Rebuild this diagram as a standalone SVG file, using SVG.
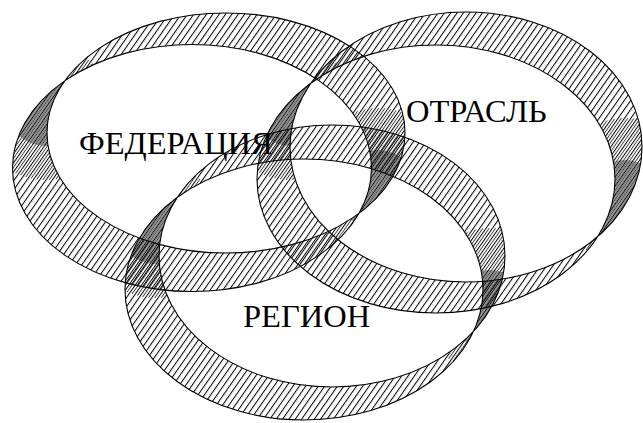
<svg xmlns="http://www.w3.org/2000/svg" width="643" height="423" viewBox="0 0 643 423">
<style>
.band{stroke:none}
.outline{fill:none;stroke:#000;stroke-width:1.1}
.lbl{font-family:"Liberation Serif","Times New Roman",serif;font-size:32.5px;fill:#000}
.hl{stroke:#000;stroke-width:1}
.hx{stroke:#000;stroke-width:0.75}
</style>
<defs>
<pattern id="hF" patternUnits="userSpaceOnUse" width="5.2" height="20" patternTransform="rotate(35)"><line class="hl" x1="0.5" y1="-1" x2="0.5" y2="21"/></pattern>
<pattern id="mF" patternUnits="userSpaceOnUse" width="5.2" height="20" patternTransform="rotate(35)"><line class="hx" x1="3.1" y1="-1" x2="3.1" y2="21"/></pattern>
<pattern id="dF" patternUnits="userSpaceOnUse" width="5.2" height="20" patternTransform="rotate(35)"><line class="hx" x1="1.8" y1="-1" x2="1.8" y2="21"/><line class="hx" x1="4.4" y1="-1" x2="4.4" y2="21"/></pattern>
<pattern id="hO" patternUnits="userSpaceOnUse" width="5.2" height="20" patternTransform="rotate(35) translate(1.7 0)"><line class="hl" x1="0.5" y1="-1" x2="0.5" y2="21"/></pattern>
<pattern id="mO" patternUnits="userSpaceOnUse" width="5.2" height="20" patternTransform="rotate(35) translate(1.7 0)"><line class="hx" x1="3.1" y1="-1" x2="3.1" y2="21"/></pattern>
<pattern id="dO" patternUnits="userSpaceOnUse" width="5.2" height="20" patternTransform="rotate(35) translate(1.7 0)"><line class="hx" x1="1.8" y1="-1" x2="1.8" y2="21"/><line class="hx" x1="4.4" y1="-1" x2="4.4" y2="21"/></pattern>
<pattern id="hR" patternUnits="userSpaceOnUse" width="5.2" height="20" patternTransform="rotate(35) translate(3.4 0)"><line class="hl" x1="0.5" y1="-1" x2="0.5" y2="21"/></pattern>
<pattern id="mR" patternUnits="userSpaceOnUse" width="5.2" height="20" patternTransform="rotate(35) translate(3.4 0)"><line class="hx" x1="3.1" y1="-1" x2="3.1" y2="21"/></pattern>
<pattern id="dR" patternUnits="userSpaceOnUse" width="5.2" height="20" patternTransform="rotate(35) translate(3.4 0)"><line class="hx" x1="1.8" y1="-1" x2="1.8" y2="21"/><line class="hx" x1="4.4" y1="-1" x2="4.4" y2="21"/></pattern>
<clipPath id="cF"><path clip-rule="evenodd" d="M47,133 a179,120 0 1,0 358,0 a179,120 0 1,0 -358,0 Z M12.5,168 a179.5,123.5 0 1,0 359,0 a179.5,123.5 0 1,0 -359,0 Z"/></clipPath>
<clipPath id="cO"><path clip-rule="evenodd" d="M290,147 a176,135 0 1,0 352,0 a176,135 0 1,0 -352,0 Z M257,179 a179,134 0 1,0 358,0 a179,134 0 1,0 -358,0 Z"/></clipPath>
<clipPath id="cR"><path clip-rule="evenodd" d="M159,256 a173,131 0 1,0 346,0 a173,131 0 1,0 -346,0 Z M125,289.5 a179,130.5 0 1,0 358,0 a179,130.5 0 1,0 -358,0 Z"/></clipPath>
<clipPath id="zmF"><circle cx="45" cy="112" r="68"/><circle cx="378" cy="180" r="72"/></clipPath>
<clipPath id="zdF"><circle cx="45" cy="108" r="38"/><circle cx="378" cy="190" r="40"/></clipPath>
<clipPath id="zmO"><circle cx="290" cy="112" r="68"/><circle cx="625" cy="190" r="72"/></clipPath>
<clipPath id="zdO"><circle cx="290" cy="108" r="38"/><circle cx="625" cy="200" r="40"/></clipPath>
<clipPath id="zmR"><circle cx="155" cy="230" r="68"/><circle cx="490" cy="300" r="72"/></clipPath>
<clipPath id="zdR"><circle cx="155" cy="226" r="38"/><circle cx="490" cy="310" r="40"/></clipPath>
</defs>
<rect width="643" height="423" fill="#fff"/>
<g id="federation">
<path class="band" fill="url(#hF)" fill-rule="evenodd" d="M47,133 a179,120 0 1,0 358,0 a179,120 0 1,0 -358,0 Z M12.5,168 a179.5,123.5 0 1,0 359,0 a179.5,123.5 0 1,0 -359,0 Z"/>
<g clip-path="url(#cF)"><g clip-path="url(#zmF)"><rect width="643" height="423" fill="url(#mF)"/></g><g clip-path="url(#zdF)"><rect width="643" height="423" fill="url(#dF)"/></g></g>
<path class="outline" d="M47,133 a179,120 0 1,0 358,0 a179,120 0 1,0 -358,0 Z M12.5,168 a179.5,123.5 0 1,0 359,0 a179.5,123.5 0 1,0 -359,0 Z"/>
</g>
<g id="otrasl">
<path class="band" fill="url(#hO)" fill-rule="evenodd" d="M290,147 a176,135 0 1,0 352,0 a176,135 0 1,0 -352,0 Z M257,179 a179,134 0 1,0 358,0 a179,134 0 1,0 -358,0 Z"/>
<g clip-path="url(#cO)"><g clip-path="url(#zmO)"><rect width="643" height="423" fill="url(#mO)"/></g><g clip-path="url(#zdO)"><rect width="643" height="423" fill="url(#dO)"/></g></g>
<path class="outline" d="M290,147 a176,135 0 1,0 352,0 a176,135 0 1,0 -352,0 Z M257,179 a179,134 0 1,0 358,0 a179,134 0 1,0 -358,0 Z"/>
</g>
<g id="region">
<path class="band" fill="url(#hR)" fill-rule="evenodd" d="M159,256 a173,131 0 1,0 346,0 a173,131 0 1,0 -346,0 Z M125,289.5 a179,130.5 0 1,0 358,0 a179,130.5 0 1,0 -358,0 Z"/>
<g clip-path="url(#cR)"><g clip-path="url(#zmR)"><rect width="643" height="423" fill="url(#mR)"/></g><g clip-path="url(#zdR)"><rect width="643" height="423" fill="url(#dR)"/></g></g>
<path class="outline" d="M159,256 a173,131 0 1,0 346,0 a173,131 0 1,0 -346,0 Z M125,289.5 a179,130.5 0 1,0 358,0 a179,130.5 0 1,0 -358,0 Z"/>
</g>
<g id="labels">
<text class="lbl" x="79" y="154">ФЕДЕРАЦИЯ</text>
<text class="lbl" x="406" y="122">ОТРАСЛЬ</text>
<text class="lbl" x="243" y="327">РЕГИОН</text>
</g>
</svg>
